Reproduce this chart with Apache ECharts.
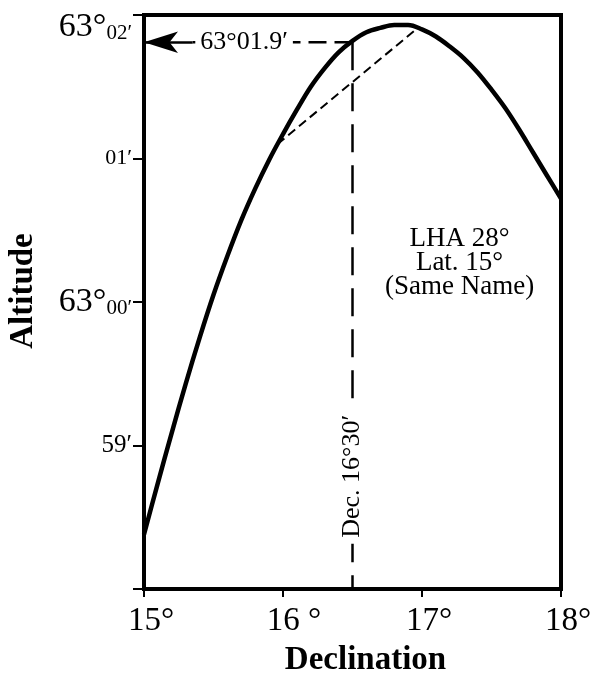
<!DOCTYPE html>
<html><head><meta charset="utf-8">
<script src="https://cdn.jsdelivr.net/npm/echarts@6/dist/echarts.min.js"></script>
<style>html,body{margin:0;padding:0;background:#fff}#c{width:595px;height:673px}</style>
</head><body><div id="c"></div>
<script>
// Declination (degrees) and altitude (minutes relative to 63°00')
const declination = [15.0, 15.1, 15.2, 15.3, 15.4, 15.5, 15.6, 15.7, 15.8, 15.9, 16.0, 16.1, 16.2, 16.3, 16.4, 16.5, 16.6, 16.7, 16.8, 16.9, 17.0, 17.1, 17.2, 17.3, 17.4, 17.5, 17.6, 17.7, 17.8, 17.9, 18.0];
const altitude    = [-1.62, -1.26, -0.91, -0.57, -0.25, 0.05, 0.32, 0.57, 0.79, 0.99, 1.17, 1.34, 1.50, 1.63, 1.74, 1.82, 1.88, 1.91, 1.93, 1.93, 1.90, 1.85, 1.78, 1.70, 1.60, 1.48, 1.35, 1.20, 1.04, 0.88, 0.72];
// Chord (interpolation line) endpoints
const chordDec = [15.96, 16.97];
const chordAlt = [1.10, 1.91];
// Reading at Dec 16°30'
const readDec = 16.5;
const readAlt = 1.81;
const readLabel = '63°01.9′';
const decLabel = 'Dec. 16°30′';
const noteLines = ['LHA 28°', 'Lat. 15°', '(Same Name)'];
// Axis ticks
const xTicks = [15, 16, 17, 18];
const xTickLabels = ['15', '16', '17', '18'];
const xTickDeg = ['°', ' °', '°', '°'];
const yTicks = [-2, -1, 0, 1, 2];
const yTickLabels = ['', '59′', '63°00′', '01′', '63°02′'];

const FF = 'Liberation Serif';
const chart = echarts.init(document.getElementById('c'), null, {renderer: 'canvas'});

const textLabel = (extra) => Object.assign({show: true, position: 'inside', fontFamily: FF, color: '#000', opacity: 1}, extra);

const option = {
  backgroundColor: '#fff',
  animation: false,
  grid: {left: 144, right: 34, top: 15, bottom: 84, show: true, borderColor: '#000', borderWidth: 4,
    containLabel: false, outerBoundsMode: 'none'},
  xAxis: {
    type: 'value', min: 15, max: 18, interval: 1,
    axisLine: {onZero: false, lineStyle: {color: '#000', width: 4}},
    axisTick: {length: 8, lineStyle: {color: '#000', width: 2}},
    splitLine: {show: false},
    axisLabel: {
      margin: 16, color: '#000', fontFamily: FF, fontSize: 33, hideOverlap: false,
      formatter: v => {
        const i = xTicks.indexOf(v);
        if (i < 0) return '';
        const deg = xTickDeg[i];
        const padName = deg.length > 1 ? 'p2' : 'p1';
        return '{' + padName + '|}{n|' + xTickLabels[i] + '}{n|' + deg + '}';
      },
      rich: {
        n: {fontFamily: FF, fontSize: 33, color: '#000'},
        p1: {width: 14},
        p2: {width: 22}
      }
    },
    name: 'Declination', nameLocation: 'middle', nameGap: 55,
    nameTextStyle: {fontFamily: FF, fontSize: 33, fontWeight: 'bold', color: '#000', padding: [0, 0, 0, 26]}
  },
  yAxis: {
    type: 'value', min: -2, max: 2, interval: 1,
    axisLine: {onZero: false, lineStyle: {color: '#000', width: 4}},
    axisTick: {length: 11, lineStyle: {color: '#000', width: 2}},
    splitLine: {show: false},
    axisLabel: {
      margin: 12, color: '#000', fontFamily: FF, hideOverlap: false,
      formatter: v => {
        const i = yTicks.indexOf(v);
        if (i < 0) return '';
        const s = yTickLabels[i];
        if (!s) return '';
        if (s.indexOf('63°') === 0) {
          const pre = v === 2 ? '{gap|}\n' : '';
          return pre + '{big|63°}{small|' + s.slice(3) + '}';
        }
        return v === -1 ? '{m59|' + s + '}' : '{m|' + s + '}';
      },
      rich: {
        gap: {lineHeight: 24, fontSize: 10},
        big: {fontFamily: FF, fontSize: 34, color: '#000', lineHeight: 34, verticalAlign: 'bottom'},
        small: {fontFamily: FF, fontSize: 21, color: '#000', lineHeight: 27, verticalAlign: 'bottom'},
        m: {fontFamily: FF, fontSize: 22, color: '#000'},
        m59: {fontFamily: FF, fontSize: 25, color: '#000'}
      }
    },
    name: 'Altitude', nameLocation: 'middle', nameGap: 104,
    nameTextStyle: {fontFamily: FF, fontSize: 33, fontWeight: 'bold', color: '#000', padding: [0, 0, 0, 22]}
  },
  series: [
    {
      type: 'line', name: 'altitude', smooth: 0.35, symbol: 'none', z: 5,
      data: declination.map((d, i) => [d, altitude[i]]),
      lineStyle: {color: '#000', width: 4.5}
    },
    {
      type: 'line', name: 'chord', symbol: 'none', z: 4,
      data: chordDec.map((d, i) => [d, chordAlt[i]]),
      lineStyle: {color: '#000', width: 2, type: [9, 5]}
    },
    {
      type: 'line', name: 'decLine', symbol: 'none', z: 4,
      data: [[readDec, readAlt], [readDec, -2]],
      lineStyle: {color: '#000', width: 2.5, type: [28, 13]}
    },
    {
      type: 'line', name: 'altLine', symbol: 'none', z: 4,
      data: [[readDec, readAlt], [15.35, readAlt]],
      lineStyle: {color: '#000', width: 2.5, type: [18, 8]},
      markLine: {
        silent: true, symbol: ['none', 'arrow'], symbolSize: [16, 34],
        lineStyle: {color: '#000', width: 2.5, type: 'solid', opacity: 1},
        itemStyle: {color: '#000'},
        label: {show: false},
        data: [[{coord: [15.35, readAlt]}, {coord: [15.0, readAlt]}]]
      }
    },
    {
      type: 'scatter', name: 'readLabel', symbolSize: 0.1, z: 10,
      itemStyle: {color: '#fff', opacity: 1},
      data: [[15.72, readAlt]],
      label: textLabel({formatter: readLabel, fontSize: 26, backgroundColor: '#fff', padding: [2, 5, 0, 5]})
    },
    {
      type: 'scatter', name: 'decLabel', symbolSize: 0.1, z: 10,
      itemStyle: {color: '#fff', opacity: 1},
      data: [[readDec, -1.215]],
      label: textLabel({rotate: 90, formatter: decLabel, fontSize: 26, backgroundColor: '#fff', padding: [0, 6, 0, 6]})
    },
    {
      type: 'scatter', name: 'note', symbolSize: 0.1, z: 10,
      itemStyle: {color: '#fff', opacity: 1},
      data: [[17.27, 0.27]],
      label: textLabel({align: 'center', formatter: noteLines.join('\n'), fontSize: 27, lineHeight: 24})
    }
  ]
};
chart.setOption(option);
</script></body></html>
